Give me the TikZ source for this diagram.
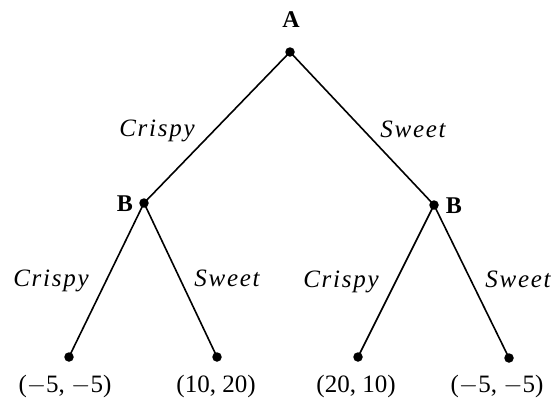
\documentclass[tikz,border=0pt]{standalone}
\usepackage{fontspec}
\setmainfont{Liberation Serif}
\newfontfamily\lblfont[LetterSpace=7]{Liberation Serif}
\begin{document}
\begin{tikzpicture}[x=1pt,y=-1pt,
  dotnode/.style={circle,fill=black,inner sep=0pt,minimum size=9.5pt},
  edgelbl/.style={font=\lblfont\fontsize{25}{29}\selectfont\itshape,anchor=base,inner sep=0pt},
  playerlbl/.style={font=\fontsize{24}{28}\selectfont\bfseries,inner sep=0pt},
  payoff/.style={font=\fontsize{25}{29}\selectfont,anchor=base,inner sep=0pt},
  branch/.style={line width=1.6pt}]
\useasboundingbox (0,0) rectangle (558,407);
\node[dotnode] (A) at (290,52) {};
\node[dotnode] (B1) at (144,203) {};
\node[dotnode] (B2) at (434,205) {};
\node[dotnode] (L1) at (69,357) {};
\node[dotnode] (L2) at (217,357) {};
\node[dotnode] (L3) at (358,357) {};
\node[dotnode] (L4) at (509,358) {};
\draw[branch] (A.center) -- (B1.center);
\draw[branch] (A.center) -- (B2.center);
\draw[branch] (B1.center) -- (L1.center);
\draw[branch] (B1.center) -- (L2.center);
\draw[branch] (B2.center) -- (L3.center);
\draw[branch] (B2.center) -- (L4.center);
\node[playerlbl] (tA) at (291,20) {A};
\node[playerlbl] (tB1) at (125,204) {B};
\node[playerlbl] (tB2) at (454,206) {B};
\node[edgelbl] (e1) at (157,136) {Crispy};
\node[edgelbl] (e2) at (413,137) {Sweet};
\node[edgelbl] (e3) at (51,286) {Crispy};
\node[edgelbl] (e4) at (227,286) {Sweet};
\node[edgelbl] (e5) at (341,287) {Crispy};
\node[edgelbl] (e6) at (518,287) {Sweet};
\node[payoff] (p1) at (65,392) {($-$5, $-$5)};
\node[payoff] (p2) at (216,392) {(10, 20)};
\node[payoff] (p3) at (356,392) {(20, 10)};
\node[payoff] (p4) at (497,392) {($-$5, $-$5)};
\end{tikzpicture}
\end{document}
